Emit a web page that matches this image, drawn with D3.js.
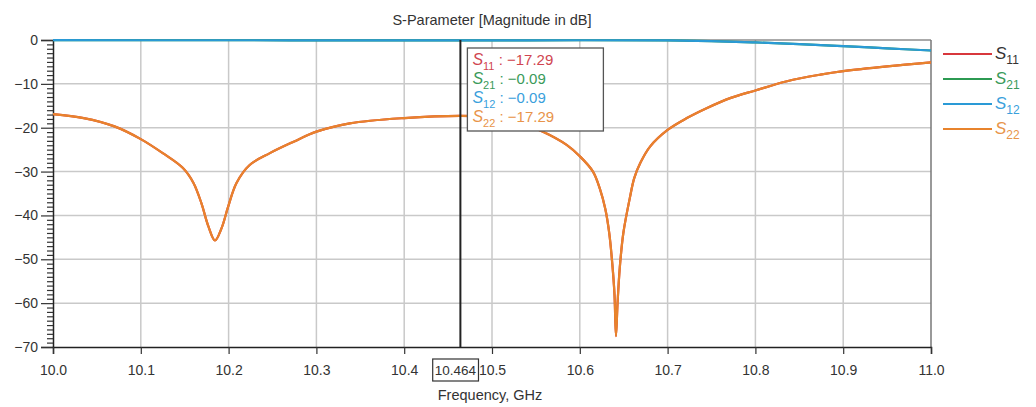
<!DOCTYPE html>
<html>
<head>
<meta charset="utf-8">
<script src="https://cdn.jsdelivr.net/npm/d3@7"></script>
<style>
  html, body { margin: 0; padding: 0; background: #fff; }
  svg { display: block; font-family: "Liberation Sans", Arial, sans-serif; }
</style>
</head>
<body>
<svg id="chart" width="1036" height="407"></svg>
<script>
// ---- data ----
const xTicks = [10.0, 10.1, 10.2, 10.3, 10.4, 10.5, 10.6, 10.7, 10.8, 10.9, 11.0];
const yTicks = [0, -10, -20, -30, -40, -50, -60, -70];
const freqRefl = [10.00, 10.035, 10.07, 10.10, 10.125, 10.148, 10.16, 10.169, 10.177, 10.1845, 10.192, 10.1995, 10.209, 10.224, 10.247, 10.274, 10.30, 10.338, 10.40, 10.464, 10.50, 10.53, 10.558, 10.585, 10.60, 10.615, 10.623, 10.629, 10.6335, 10.637, 10.6395, 10.6412, 10.643, 10.6455, 10.6496, 10.657, 10.662, 10.669, 10.68, 10.70, 10.722, 10.745, 10.772, 10.80, 10.836, 10.874, 10.90, 10.95, 11.00];
const s22 = [-16.9, -17.8, -19.7, -22.6, -25.8, -29.2, -32.6, -37.2, -42.5, -45.7, -42.9, -38.0, -32.6, -28.5, -25.8, -23.2, -20.9, -19.0, -17.8, -17.29, -17.6, -18.8, -20.9, -23.9, -26.5, -30.0, -34.0, -38.5, -44.0, -51.0, -58.0, -67.5, -60.0, -52.0, -44.0, -36.0, -31.5, -28.0, -24.3, -20.5, -17.8, -15.5, -13.2, -11.5, -9.4, -7.9, -7.1, -6.0, -5.1];
const s11 = s22.slice();
const freqThru = [10.0, 10.2, 10.4, 10.464, 10.6, 10.7, 10.75, 10.8, 10.85, 10.9, 10.95, 11.0];
const s21 = [-0.05, -0.06, -0.08, -0.09, -0.06, -0.08, -0.25, -0.55, -0.95, -1.4, -1.9, -2.4];
const s12 = s21.slice();
const seriesNames = ["11", "21", "12", "22"];
const markerFreq = 10.464;
const markerValues = ["\u221217.29", "\u22120.09", "\u22120.09", "\u221217.29"];

// ---- layout ----
const svg = d3.select("#chart");
const L = 53, R = 931, T = 40, B = 347;
const x = d3.scaleLinear().domain([10.0, 11.0]).range([L, R]);
const y = d3.scaleLinear().domain([-70, 0]).range([B, T]);

const colors = { "11": "#d8373c", "21": "#2c9a52", "12": "#2a9ad6", "22": "#e8832c" };
const textColors = { "11": "#d04550", "21": "#3a9a5a", "12": "#3aa0dc", "22": "#e8944a" };

// title
svg.append("text").attr("x", 492).attr("y", 25).attr("text-anchor", "middle")
  .attr("font-size", 14.5).attr("fill", "#333").text("S-Parameter [Magnitude in dB]");

// gridlines
const grid = svg.append("g");
grid.selectAll("line.v").data(xTicks.slice(1, -1)).join("line")
  .attr("x1", d => x(d)).attr("x2", d => x(d)).attr("y1", T).attr("y2", B)
  .attr("stroke", "#c9c9c9").attr("stroke-width", 1.5);
grid.selectAll("line.h").data(yTicks.slice(1, -1)).join("line")
  .attr("x1", L).attr("x2", R).attr("y1", d => y(d)).attr("y2", d => y(d))
  .attr("stroke", "#c9c9c9").attr("stroke-width", 1.5);
// frame top/right
svg.append("line").attr("x1", L).attr("x2", R).attr("y1", T).attr("y2", T).attr("stroke", "#555").attr("stroke-width", 1);
svg.append("line").attr("x1", R).attr("x2", R).attr("y1", T).attr("y2", B).attr("stroke", "#777").attr("stroke-width", 1.5);

// axes
const fmtY = d3.format("d");
const yAxis = svg.append("g").attr("transform", `translate(${L},0)`)
  .call(d3.axisLeft(y).tickValues(yTicks).tickFormat(d => fmtY(d)).tickSize(12).tickPadding(3));
const yMinor = svg.append("g").attr("transform", `translate(${L},0)`)
  .call(d3.axisLeft(y).tickValues(d3.range(-70, 1, 1).filter(v => v % 10 !== 0)).tickSize(6).tickFormat(""));
yMinor.select(".domain").remove();
const xAxis = svg.append("g").attr("transform", `translate(0,${B})`)
  .call(d3.axisBottom(x).tickValues(xTicks).tickFormat(d3.format(".1f")).tickSize(7).tickPadding(11));
[yAxis, yMinor, xAxis].forEach(g => {
  g.selectAll("path.domain").attr("stroke", "#222").attr("stroke-width", 1.5);
  g.selectAll(".tick line").attr("stroke", "#333").attr("stroke-width", 1.2);
  g.selectAll(".tick text").attr("font-size", 14).attr("fill", "#333")
    .attr("font-family", "Liberation Sans, Arial, sans-serif");
});

// series lines
const line = d3.line().x(d => x(d[0])).y(d => y(d[1])).curve(d3.curveCatmullRom.alpha(0.5));
const zipped = (fx, vals) => fx.map((f, i) => [f, vals[i]]);
const plot = svg.append("g");
plot.append("path").datum(zipped(freqRefl, s11)).attr("d", line)
  .attr("fill", "none").attr("stroke", colors["11"]).attr("stroke-width", 2.2);
plot.append("path").datum(zipped(freqThru, s21)).attr("d", line)
  .attr("fill", "none").attr("stroke", colors["21"]).attr("stroke-width", 2.2);
plot.append("path").datum(zipped(freqThru, s12)).attr("d", line)
  .attr("fill", "none").attr("stroke", colors["12"]).attr("stroke-width", 2.2);
plot.append("path").datum(zipped(freqRefl, s22)).attr("d", line)
  .attr("fill", "none").attr("stroke", colors["22"]).attr("stroke-width", 2.2);

// marker line
const mx = x(markerFreq);
svg.append("line").attr("x1", mx).attr("x2", mx).attr("y1", T).attr("y2", B)
  .attr("stroke", "#222").attr("stroke-width", 2);

// marker readout box
const bx = mx + 7, by = 48, bw = 136, bh = 83;
svg.append("rect").attr("x", bx).attr("y", by).attr("width", bw).attr("height", bh)
  .attr("fill", "#fff").attr("stroke", "#555").attr("stroke-width", 1.3);
seriesNames.forEach((n, i) => {
  const t = svg.append("text").attr("x", bx + 5).attr("y", by + 17 + i * 19)
    .attr("font-size", 15).attr("fill", textColors[n]);
  t.append("tspan").attr("font-style", "italic").attr("font-size", 16).text("S");
  t.append("tspan").attr("font-size", 11).attr("dy", 5).text(n);
  t.append("tspan").attr("dy", -5).text(" : " + markerValues[i]);
});

// marker frequency label on x-axis
const lab = svg.append("text").attr("x", 476).attr("y", 375).attr("text-anchor", "end")
  .attr("font-size", 13.5).attr("fill", "#333").text(d3.format(".3f")(markerFreq));
const bb = lab.node().getBBox();
svg.append("rect").attr("x", bb.x - 2).attr("y", 359).attr("width", bb.width + 4).attr("height", 22)
  .attr("fill", "none").attr("stroke", "#333").attr("stroke-width", 1.2);

// x label
svg.append("text").attr("x", 490).attr("y", 400).attr("text-anchor", "middle")
  .attr("font-size", 14.5).attr("fill", "#333").text("Frequency, GHz");

// legend
seriesNames.forEach((n, i) => {
  const ly = 54 + i * 25;
  svg.append("line").attr("x1", 943).attr("x2", 992).attr("y1", ly).attr("y2", ly)
    .attr("stroke", colors[n]).attr("stroke-width", 2.2);
  const t = svg.append("text").attr("x", 995).attr("y", ly + 5).attr("font-size", 17)
    .attr("fill", n === "11" ? "#333" : textColors[n]);
  t.append("tspan").attr("font-style", "italic").text("S");
  t.append("tspan").attr("font-size", 12).attr("dy", 5).text(n);
});
</script>
</body>
</html>
